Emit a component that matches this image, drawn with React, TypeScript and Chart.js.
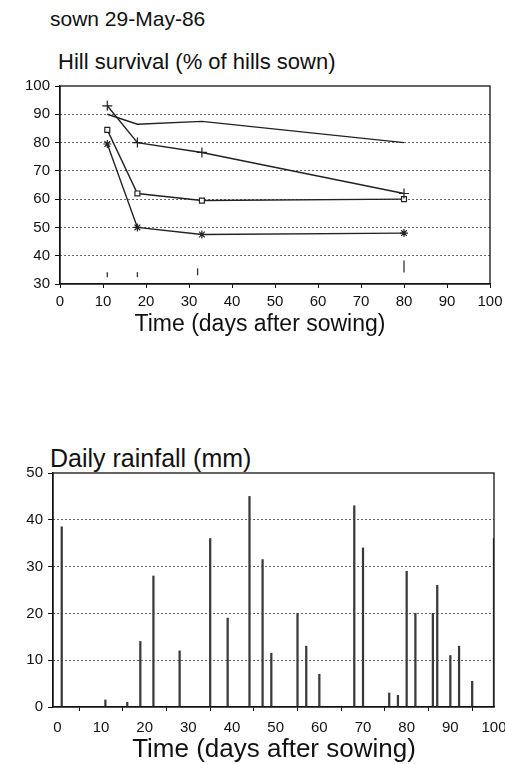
import { useEffect, useRef } from "react";
import { Chart, registerables } from "chart.js";
Chart.register(...registerables);

const sowingTitle = "sown 29-May-86";
const survivalTitle = "Hill survival (% of hills sown)";
const rainTitle = "Daily rainfall (mm)";
const xTitle = "Time (days after sowing)";

const dayTicks = [0, 10, 20, 30, 40, 50, 60, 70, 80, 90, 100];
const survivalTicks = [30, 40, 50, 60, 70, 80, 90, 100];
const rainTicks = [0, 10, 20, 30, 40, 50];

const surveyDays = [11, 18, 33, 80];
const seriesPlain = [90, 86.5, 87.5, 80];
const seriesPlus = [93, 80, 76.5, 62];
const seriesSquare = [84.5, 62, 59.5, 60];
const seriesStar = [79.5, 50, 47.5, 48];

const markDays = [11, 18, 32, 80];
const markValues = [33.3, 33.3, 34.3, 36.2];
const markSizes = [2.5, 2.5, 3.5, 6];

const rainDays = [1, 11, 16, 19, 22, 28, 35, 39, 44, 47, 49, 55, 57, 60, 68, 70, 76, 78, 80, 82, 86, 87, 90, 92, 95, 100];
const rainMm = [38.5, 1.5, 1, 14, 28, 12, 36, 19, 45, 31.5, 11.5, 20, 13, 7, 43, 34, 3, 2.5, 29, 20, 20, 26, 11, 13, 5.5, 36];

const FONT = "'Liberation Sans', Arial, Helvetica, sans-serif";
const INK = "#111";

const framePlugin = {
  id: "frame",
  afterDatasetsDraw(chart: any) {
    const { ctx, chartArea } = chart;
    const { left, top, right, bottom } = chartArea;
    ctx.save();
    ctx.strokeStyle = INK;
    ctx.lineWidth = 1.3;
    ctx.setLineDash([]);
    ctx.strokeRect(left, top, right - left, bottom - top);
    ctx.restore();
  },
};

function pts(xs: number[], ys: number[]) {
  return xs.map((x, i) => ({ x, y: ys[i] }));
}

function xAxis(min: number, height: number, pad: number) {
  return {
    type: "linear",
    min,
    max: 100,
    afterBuildTicks: (s: any) => {
      s.ticks = dayTicks.map((v) => ({ value: v }));
    },
    afterFit: (s: any) => {
      s.height = height;
    },
    grid: {
      drawOnChartArea: false,
      drawTicks: true,
      tickLength: 4,
      tickColor: INK,
      color: INK,
    },
    border: { color: INK, width: 1.3 },
    ticks: {
      autoSkip: false,
      maxRotation: 0,
      padding: pad,
      color: INK,
      font: { family: FONT, size: 15 },
    },
    title: { display: false },
  };
}

function yAxis(min: number, max: number, ticks: number[], width: number) {
  return {
    type: "linear",
    min,
    max,
    afterBuildTicks: (s: any) => {
      s.ticks = ticks.map((v) => ({ value: v }));
    },
    afterFit: (s: any) => {
      s.width = width;
    },
    grid: {
      color: (c: any) =>
        c.tick && c.tick.value > min && c.tick.value < max ? "#333" : "rgba(0,0,0,0)",
      lineWidth: 1,
      drawTicks: true,
      tickLength: 5,
      tickColor: INK,
      tickBorderDash: [],
    },
    border: { color: INK, width: 1.3, dash: [1.5, 2.5] },
    ticks: {
      padding: 5,
      color: INK,
      font: { family: FONT, size: 15 },
    },
  };
}

function SurvivalChart() {
  const ref = useRef<HTMLCanvasElement>(null);
  useEffect(() => {
    const lineStyle = {
      borderColor: "#222",
      borderWidth: 1.4,
      tension: 0,
      pointBorderColor: "#222",
      pointBorderWidth: 1.2,
    };
    const chart = new Chart(ref.current as HTMLCanvasElement, {
      type: "line",
      data: {
        datasets: [
          { ...lineStyle, data: pts(surveyDays, seriesPlain), pointRadius: 0 },
          { ...lineStyle, data: pts(surveyDays, seriesPlus), pointStyle: "cross", pointRadius: 5 },
          {
            ...lineStyle,
            data: pts(surveyDays, seriesSquare),
            pointStyle: "rect",
            pointRadius: 3.5,
            pointBackgroundColor: "#fff",
          },
          { ...lineStyle, data: pts(surveyDays, seriesStar), pointStyle: "star", pointRadius: 4 },
          {
            data: pts(markDays, markValues),
            showLine: false,
            pointStyle: "line",
            rotation: 90,
            pointRadius: markSizes,
            pointBorderColor: "#333",
            pointBorderWidth: 1.3,
          },
        ],
      } as any,
      options: {
        animation: false,
        responsive: false,
        events: [],
        layout: { padding: { top: 8, right: 25, left: 0, bottom: 0 } },
        plugins: { legend: { display: false }, tooltip: { enabled: false } },
        scales: {
          x: xAxis(0, 38, 5),
          y: yAxis(30, 100, survivalTicks, 60),
        } as any,
      },
      plugins: [framePlugin],
    });
    return () => chart.destroy();
  }, []);
  return <canvas ref={ref} width={515} height={250} style={{ position: "absolute", left: 0, top: 72 }} />;
}

function RainChart() {
  const ref = useRef<HTMLCanvasElement>(null);
  useEffect(() => {
    const chart = new Chart(ref.current as HTMLCanvasElement, {
      type: "bar",
      data: {
        datasets: [
          {
            data: pts(rainDays, rainMm),
            backgroundColor: "#3a3a3a",
            barThickness: 1.6,
            borderWidth: 0,
          },
        ],
      } as any,
      options: {
        animation: false,
        responsive: false,
        events: [],
        layout: { padding: { top: 33, right: 26, left: 0, bottom: 0 } },
        plugins: { legend: { display: false }, tooltip: { enabled: false } },
        scales: {
          x: { ...xAxis(-1, 33, 8), offset: false },
          y: yAxis(0, 50, rainTicks, 53),
        } as any,
      },
      plugins: [framePlugin],
    });
    return () => chart.destroy();
  }, []);
  return <canvas ref={ref} width={520} height={300} style={{ position: "absolute", left: 0, top: 440 }} />;
}

function Label(props: { text: string; left?: number; cx?: number; center: number; size: number }) {
  const { text, left, cx, center, size } = props;
  const centered = cx !== undefined;
  return (
    <div
      style={{
        position: "absolute",
        left: centered ? cx : left,
        top: center - size / 2,
        transform: centered ? "translateX(-50%)" : undefined,
        fontSize: size,
        lineHeight: `${size}px`,
        fontFamily: FONT,
        color: INK,
        whiteSpace: "nowrap",
      }}
    >
      {text}
    </div>
  );
}

export default function App() {
  return (
    <div
      style={{
        position: "absolute",
        left: 0,
        top: 0,
        width: 505,
        height: 764,
        overflow: "hidden",
        background: "#fff",
      }}
    >
      <Label text={sowingTitle} left={50} center={18} size={21} />
      <Label text={survivalTitle} left={58} center={62} size={22} />
      <SurvivalChart />
      <Label text={xTitle} cx={260} center={323} size={23} />
      <Label text={rainTitle} left={50} center={458} size={25} />
      <RainChart />
      <Label text={xTitle} cx={274} center={748} size={26} />
    </div>
  );
}
